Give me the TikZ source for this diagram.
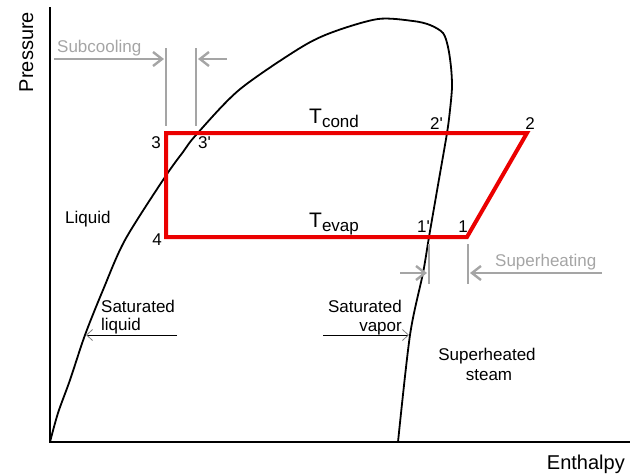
\documentclass[tikz,border=0pt]{standalone}
\usepackage{fontspec}
\setmainfont{Liberation Sans}
\usetikzlibrary{arrows.meta}
\definecolor{gr}{RGB}{165,165,165}
\definecolor{rd}{RGB}{235,0,0}
\tikzset{
  axis/.style={line width=2pt,black},
  dome/.style={line width=1.8pt,black},
  cyc/.style={line width=4pt,rd,line join=miter},
  gline/.style={line width=2.4pt,gr},
  garrow/.style={line width=2.4pt,gr,-{Straight Barb[length=9pt,width=14pt,line width=2.4pt]}},
  barrow/.style={line width=0.9pt,black,-{Straight Barb[length=6pt,width=11pt,line width=0.8pt,color=gray]}},
  lbl/.style={font=\fontsize{17}{19}\selectfont,inner sep=0pt},
  glbl/.style={lbl,text=gr},
  big/.style={font=\fontsize{20}{22}\selectfont,inner sep=0pt}
}
\begin{document}
\begin{tikzpicture}[x=1pt,y=-1pt]
\useasboundingbox (0,0) rectangle (632,474);
% axes
\coordinate (O) at (50,442);
\coordinate (ytop) at (50,7);
\coordinate (xend) at (630,442);
\draw[axis] (ytop) -- (O) -- (xend);
\node[big,rotate=90,anchor=base] (pres) at (33,52) {Pressure};
\node[big,anchor=base east] (enth) at (625,469) {Enthalpy};
% dome
\draw[dome] plot[smooth,tension=0.5] coordinates {(50,442) (58,413) (70,380) (85,335) (103,290) (125,240) (165,177) (183,152) (196,135) (239,90) (300,48) (333,32) (378,19) (413,21) (430,25) (443,33) (448,47) (451,67) (452,87) (450,110) (447,133) (438,185) (429,237) (423,273) (410,335) (398,442)};
% cycle
\coordinate (p3) at (166,133);
\coordinate (p2) at (527,133);
\coordinate (p1) at (467,237);
\coordinate (p4) at (166,237);
\draw[cyc] (p3) -- (p2) -- (p1) -- (p4) -- cycle;
% point labels
\node[lbl,anchor=base] (l3) at (156,148) {3};
\node[lbl,anchor=base west] (l3p) at (198,148) {3\textquotesingle};
\node[lbl,anchor=base] (l4) at (157,245) {4};
\node[lbl,anchor=base west] (l2p) at (430,129) {2\textquotesingle};
\node[lbl,anchor=base] (l2) at (530,129) {2};
\node[lbl,anchor=base west] (l1p) at (417,232) {1\textquotesingle};
\node[lbl,anchor=base] (l1) at (463,232) {1};
\node[lbl,anchor=base west] (tc) at (309,123) {\fontsize{21}{21}\selectfont T\raisebox{-4pt}{\fontsize{17}{17}\selectfont cond}};
\node[lbl,anchor=base west] (te) at (309,227) {\fontsize{21}{21}\selectfont T\raisebox{-4pt}{\fontsize{17}{17}\selectfont evap}};
% subcooling
\coordinate (sa) at (166,48); \coordinate (sb) at (166,126);
\coordinate (sc) at (196,48); \coordinate (sd) at (196,126);
\draw[gline] (sa) -- (sb);
\draw[gline] (sc) -- (sd);
\coordinate (s1) at (54,59); \coordinate (s1e) at (164,59);
\coordinate (s2) at (227,59); \coordinate (s2e) at (198,59);
\draw[garrow] (s1) -- (s1e);
\draw[garrow] (s2) -- (s2e);
\node[glbl,anchor=base west] (subc) at (57,52) {Subcooling};
% superheating
\coordinate (ha) at (429,244); \coordinate (hb) at (429,284);
\coordinate (hc) at (468,244); \coordinate (hd) at (468,284);
\draw[gline] (ha) -- (hb);
\draw[gline] (hc) -- (hd);
\coordinate (h1) at (400,273); \coordinate (h1e) at (427,273);
\coordinate (h2) at (602,273); \coordinate (h2e) at (470,273);
\draw[garrow] (h1) -- (h1e);
\draw[garrow] (h2) -- (h2e);
\node[glbl,anchor=base west] (suph) at (495,266) {Superheating};
% region labels
\node[lbl,anchor=base west] (liq) at (65,223) {Liquid};
\node[lbl,anchor=base west] (sl1) at (101,312) {Saturated};
\node[lbl,anchor=base west] (sl2) at (101,330) {liquid};
\coordinate (sla) at (177,335); \coordinate (slb) at (86,335);
\draw[barrow] (sla) -- (slb);
\node[lbl,anchor=base east] (sv1) at (402,312) {Saturated};
\node[lbl,anchor=base east] (sv2) at (402,331) {vapor};
\coordinate (sva) at (323,335); \coordinate (svb) at (409,335);
\draw[barrow] (sva) -- (svb);
\node[lbl,anchor=base] (ss1) at (487,360) {Superheated};
\node[lbl,anchor=base] (ss2) at (489,380) {steam};
\end{tikzpicture}
\end{document}
